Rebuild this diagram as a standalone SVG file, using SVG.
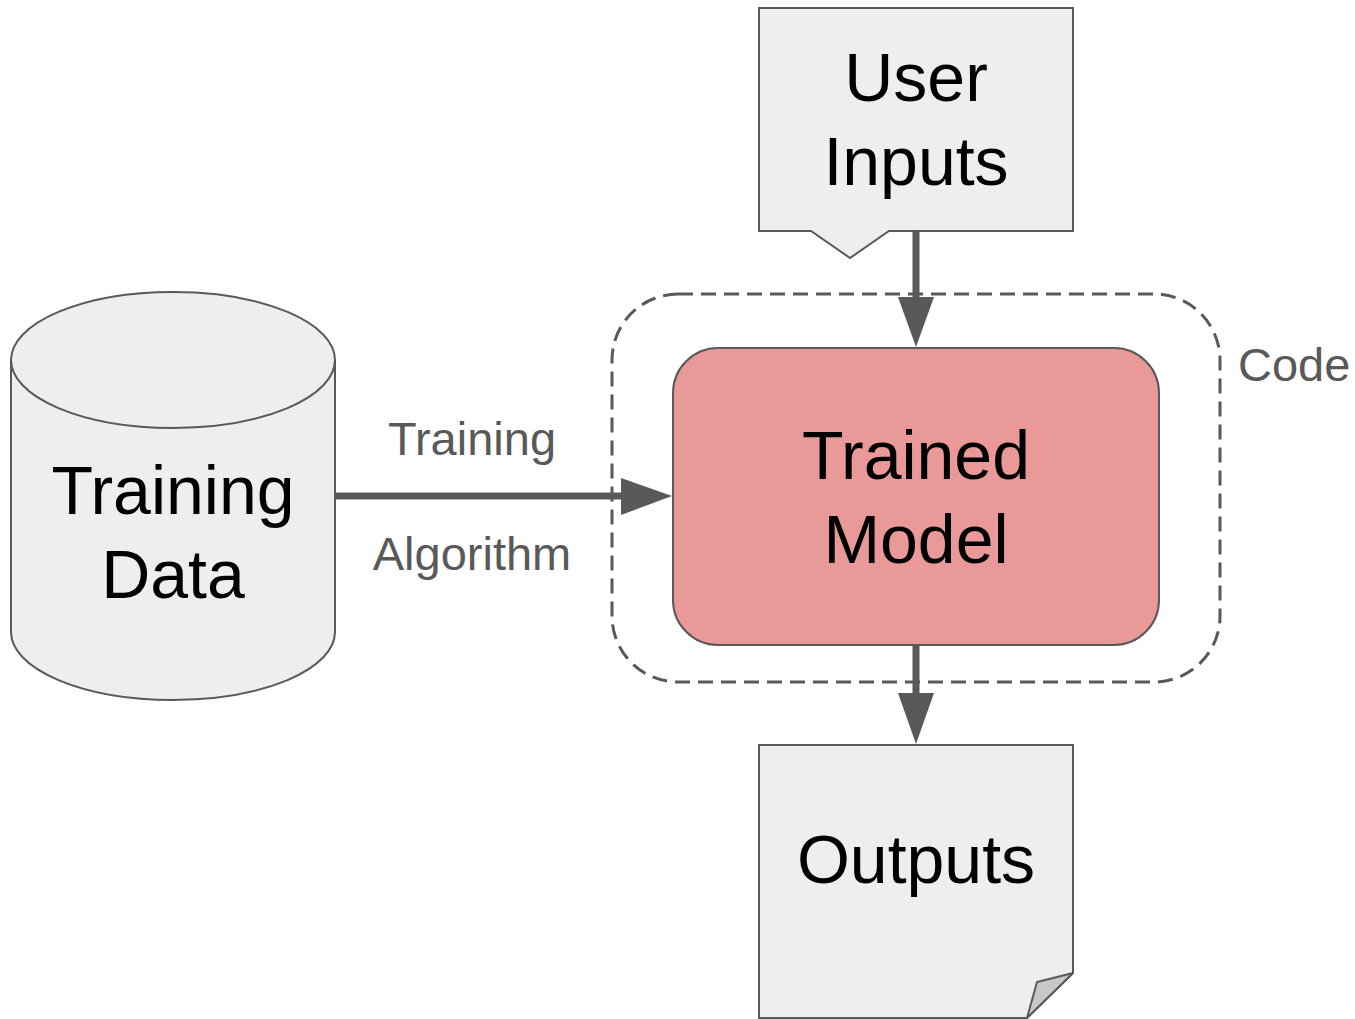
<svg xmlns="http://www.w3.org/2000/svg" width="1355" height="1019" viewBox="0 0 1355 1019">
<style>
.shape{fill:#eeeeee;stroke:#595959;stroke-width:2}
.big{font-family:"Liberation Sans",Arial,sans-serif;font-size:68px;fill:#000;text-anchor:middle}
.lbl{font-family:"Liberation Sans",Arial,sans-serif;font-size:47px;fill:#595959}
.conn{stroke:#595959;stroke-width:7;fill:none}
.head{fill:#595959}
</style>
<rect width="1355" height="1019" fill="#ffffff"/>
<g id="code-boundary">
<rect x="612" y="294" width="608" height="388" rx="66" ry="66" fill="none" stroke="#595959" stroke-width="3" stroke-dasharray="15,8"/>
<text class="lbl" x="1238" y="381">Code</text>
</g>
<g id="user-inputs">
<path class="shape" d="M759,8 H1073 V231 H889 L850,258 L811,231 H759 Z"/>
<text class="big" x="916" y="101">User</text>
<text class="big" x="916" y="185">Inputs</text>
</g>
<g id="training-data">
<path class="shape" d="M11,360 V632 A162,68 0 0 0 335,632 V360"/>
<ellipse class="shape" cx="173" cy="360" rx="162" ry="68"/>
<text class="big" x="173" y="514">Training</text>
<text class="big" x="173" y="598">Data</text>
</g>
<g id="trained-model">
<rect x="673" y="348" width="486" height="297" rx="45" ry="45" fill="#ea9999" stroke="#595959" stroke-width="2"/>
<text class="big" x="916" y="479">Trained</text>
<text class="big" x="916" y="563">Model</text>
</g>
<g id="outputs">
<path class="shape" d="M759,745 H1073 V973 L1027,1018 H759 Z"/>
<path d="M1073,973 L1037,982 L1027,1018 Z" fill="#c8c8c8" stroke="#595959" stroke-width="2" stroke-linejoin="round"/>
<text class="big" x="916" y="883">Outputs</text>
</g>
<g id="connectors">
<line class="conn" x1="916" y1="231" x2="916" y2="298"/>
<polygon class="head" points="898,297 934,297 916,347"/>
<line class="conn" x1="335" y1="496" x2="622" y2="496"/>
<polygon class="head" points="621,478 621,515 672,496"/>
<text class="lbl" x="472" y="455" text-anchor="middle">Training</text>
<text class="lbl" x="472" y="570" text-anchor="middle">Algorithm</text>
<line class="conn" x1="916" y1="645" x2="916" y2="694"/>
<polygon class="head" points="898,693 934,693 916,744"/>
</g>
</svg>
